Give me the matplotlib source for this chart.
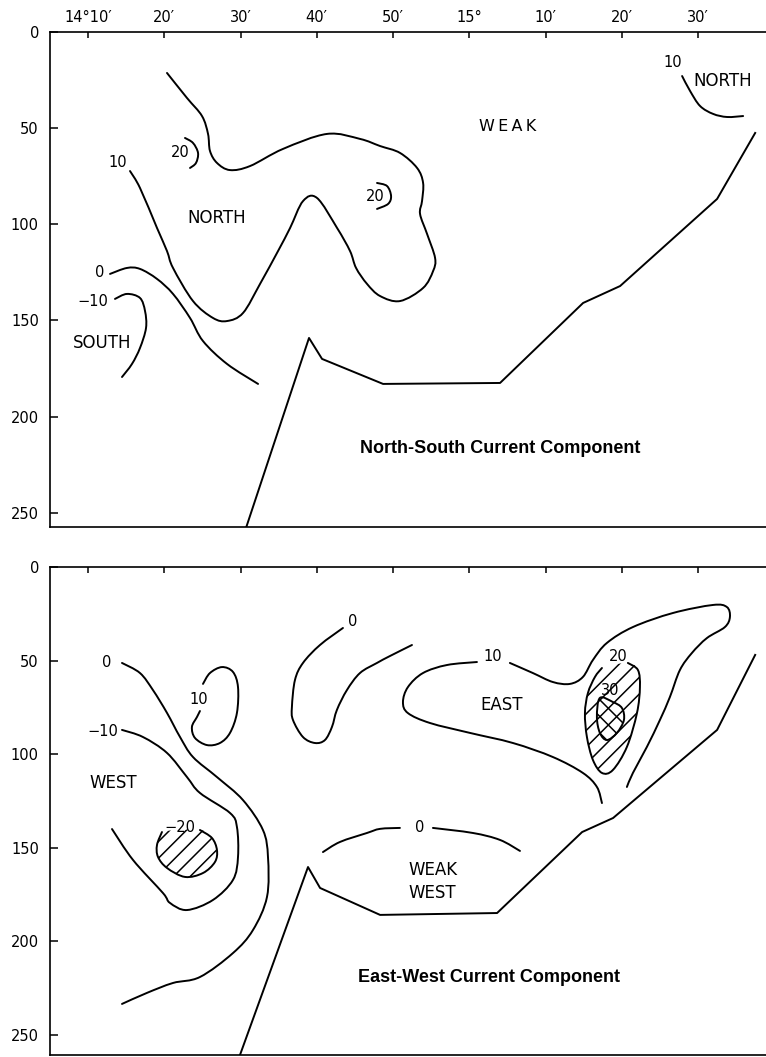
import numpy as np
import matplotlib
matplotlib.use("Agg")
import matplotlib.pyplot as plt
from matplotlib.path import Path
from matplotlib.patches import PathPatch

plt.rcParams["font.family"] = ["DejaVu Sans"]
plt.rcParams["hatch.linewidth"] = 1.1

# Longitude in minutes east of 14°00'E, depth in metres
LON_TICKS = [10, 20, 30, 40, 50, 60, 70, 80, 90]
LON_LABELS = ["14°10′", "20′", "30′", "40′", "50′", "15°", "10′", "20′", "30′"]
DEPTH_TICKS = [0, 50, 100, 150, 200, 250]

NUM_FS = 10.5   # contour values
WORD_FS = 12    # region names

# ---------------- North-South component ----------------
NS_BOTTOM_LON = [30.72, 38.98, 40.69, 48.69, 64.03, 74.92, 79.77, 92.49, 97.48]
NS_BOTTOM_DEP = [257.9, 159.1, 170.0, 183.0, 182.5, 140.9, 132.1, 86.8, 52.5]

NS_P10_LON = [20.36, 22.98, 24.95, 25.74, 26.00, 26.92, 28.62, 31.25, 35.57, 41.34,
              45.67, 48.30, 50.92, 53.15, 53.94, 53.80, 53.54, 54.46, 55.51, 55.25,
              53.94, 50.92, 48.30, 46.59, 45.15, 44.36, 42.66, 40.03, 38.20, 36.50,
              34.92, 32.56, 30.33, 28.23, 26.39, 23.77, 21.15, 20.36, 19.05, 16.82, 15.51]
NS_P10_DEP = [21.3, 34.3, 43.7, 53.0, 61.9, 68.1, 71.8, 69.7, 60.8, 53.0,
              55.6, 59.3, 62.9, 70.7, 78.5, 87.9, 94.6, 105.0, 117.5, 124.3,
              133.1, 139.9, 137.3, 131.0, 122.7, 113.9, 101.9, 86.3, 87.9, 101.9,
              113.9, 131.0, 146.1, 150.3, 148.7, 139.9, 122.7, 113.9, 101.9, 81.1, 72.3]

NS_P20A_LON = [22.72, 23.77, 24.43, 24.16, 23.38]
NS_P20A_DEP = [55.1, 57.7, 62.9, 68.1, 70.7]
NS_P20B_LON = [47.90, 49.21, 49.74, 49.35, 47.90]
NS_P20B_DEP = [78.5, 80.1, 85.3, 89.4, 92.0]

NS_ZERO_LON = [12.89, 15.11, 16.82, 19.05, 21.15, 23.38, 25.08, 28.23, 32.30]
NS_ZERO_DEP = [125.8, 122.7, 123.2, 128.4, 136.2, 148.7, 160.7, 172.6, 183.0]

NS_M10_LON = [13.54, 15.11, 16.82, 17.48, 17.61, 16.82, 15.77, 14.46]
NS_M10_DEP = [138.8, 136.2, 138.3, 145.1, 153.9, 164.3, 172.6, 179.4]

NS_NE10_LON = [87.90, 88.95, 90.26, 91.97, 93.80, 95.90]
NS_NE10_DEP = [22.9, 30.7, 38.5, 42.6, 44.2, 43.7]

# (text, lon, depth, fontsize)
NS_LABELS = [
    ("10", 13.93, 68.1, NUM_FS), ("20", 22.07, 62.9, NUM_FS), ("20", 47.64, 85.3, NUM_FS),
    ("NORTH", 26.92, 96.7, WORD_FS), ("0", 11.57, 125.3, NUM_FS), ("−10", 10.66, 139.9, NUM_FS),
    ("SOUTH", 11.84, 161.7, WORD_FS), ("10", 86.72, 16.1, NUM_FS), ("NORTH", 93.28, 25.5, WORD_FS),
    ("W\u2009E\u2009A\u2009K", 65.08, 48.9, 11.5),
]
NS_TITLE = ("North-South Current Component", 64.03, 216.8)

# ---------------- East-West component ----------------
EW_BOTTOM_LON = [29.93, 38.85, 40.43, 48.30, 63.64, 74.79, 78.85, 92.49, 97.48]
EW_BOTTOM_DEP = [260.9, 160.4, 171.6, 186.0, 185.0, 141.7, 134.2, 87.1, 47.0]

EW_ZERO_W_LON = [14.46, 16.82, 18.52, 20.36, 22.07, 23.77, 26.91, 30.32, 32.94,
                 33.60, 33.47, 31.63, 29.01, 24.68, 21.14, 17.73, 14.46]
EW_ZERO_W_DEP = [51.3, 56.7, 65.8, 78.0, 90.9, 101.6, 112.3, 124.6, 140.6,
                 155.0, 176.4, 194.1, 206.4, 219.2, 222.4, 227.7, 233.6]

EW_M10_LON = [14.46, 17.21, 20.36, 22.98, 24.68, 28.62, 29.53, 29.67, 29.01,
              26.39, 22.98, 20.75, 19.83, 15.90, 13.15]
EW_M10_DEP = [87.1, 90.9, 99.4, 112.3, 120.8, 131.5, 139.0, 155.0, 167.3,
              178.0, 183.4, 179.6, 174.3, 156.6, 140.1]

EW_M20_LON = [19.70, 19.05, 19.18, 20.36, 22.72, 25.08, 26.65, 26.91, 26.26, 24.68]
EW_M20_DEP = [141.7, 148.6, 155.0, 160.9, 165.7, 163.6, 157.7, 151.3, 144.9, 140.6]

EW_P10W_LON = [25.08, 25.99, 27.57, 29.01, 29.67, 29.53, 28.62, 27.30, 25.60,
               24.03, 23.63, 24.29, 24.68]
EW_P10W_DEP = [62.5, 56.7, 53.5, 56.1, 64.2, 78.0, 88.7, 94.1, 95.2,
               91.4, 85.5, 80.2, 77.0]

EW_ZERO_M_LON = [43.43, 40.42, 38.19, 37.14, 36.74, 36.88, 38.19, 39.76, 41.07,
                 41.99, 42.64, 43.95, 45.66, 47.89, 49.59, 52.48]
EW_ZERO_M_DEP = [32.6, 41.7, 51.3, 60.4, 74.8, 81.8, 90.9, 94.1, 92.5,
                 85.5, 76.4, 65.8, 56.7, 51.3, 47.6, 41.7]

EW_P10E_A_LON = [61.00, 57.07, 53.92, 51.95, 51.30, 51.95, 54.84, 60.08, 65.72,
                 70.96, 74.89, 76.73, 77.39]
EW_P10E_A_DEP = [50.8, 52.4, 56.7, 64.2, 72.2, 78.1, 83.4, 88.7, 94.1,
                 101.6, 110.1, 117.6, 126.2]
EW_P10E_B_LON = [65.32, 68.34, 70.96, 73.19, 74.89, 76.21, 78.04, 81.45, 86.69,
                 91.94, 93.77, 94.17, 93.51, 91.15, 89.18, 87.61, 86.30, 84.99,
                 83.28, 81.45, 80.66]
EW_P10E_B_DEP = [51.3, 56.7, 61.5, 62.5, 58.8, 49.7, 40.6, 32.1, 24.6,
                 20.3, 21.4, 26.7, 32.1, 38.0, 46.0, 55.1, 69.5, 81.8,
                 96.2, 110.1, 117.6]

EW_P20_LON = [77.39, 76.47, 75.55, 75.16, 75.42, 76.21, 77.39, 78.83, 80.66,
              81.98, 82.37, 82.11, 80.79]
EW_P20_DEP = [54.0, 58.8, 67.4, 78.1, 90.9, 103.2, 110.1, 108.5, 96.2,
              78.1, 64.2, 55.1, 51.3]

EW_P30_LON = [77.12, 78.83, 80.01, 80.27, 79.35, 78.04, 77.12, 76.73]
EW_P30_DEP = [70.0, 72.2, 75.4, 81.8, 88.7, 92.5, 88.7, 80.2]

EW_ZERO_S_A_LON = [40.81, 43.04, 46.58, 48.30, 50.90]
EW_ZERO_S_A_DEP = [152.4, 147.0, 142.2, 140.0, 139.5]
EW_ZERO_S_B_LON = [55.23, 60.47, 64.01, 66.64]
EW_ZERO_S_B_DEP = [139.5, 142.2, 145.9, 151.8]

EW_LABELS = [
    ("0", 12.49, 51.3, NUM_FS), ("−10", 11.97, 88.2, NUM_FS), ("WEST", 13.28, 115.5, WORD_FS),
    ("10", 24.56, 71.1, NUM_FS), ("0", 44.75, 28.9, NUM_FS), ("−20", 22.07, 139.5, NUM_FS),
    ("10", 63.12, 48.1, NUM_FS), ("20", 79.51, 48.1, NUM_FS), ("30", 78.46, 65.8, NUM_FS),
    ("EAST", 64.30, 73.8, WORD_FS), ("0", 53.54, 139.5, NUM_FS),
    ("WEAK", 55.25, 162.0, WORD_FS), ("WEST", 55.12, 174.3, WORD_FS),
]
EW_TITLE = ("East-West Current Component", 62.59, 219.2)

LW = 1.4


def curve_path(lon, dep, closed=False):
    """Smooth Bezier path passing through every given contour point."""
    pts = np.column_stack([lon, dep]).astype(float)
    n = len(pts)
    verts = [pts[0]]
    codes = [Path.MOVETO]
    segs = n if closed else n - 1
    for i in range(segs):
        if closed:
            p0, p1 = pts[(i - 1) % n], pts[i]
            p2, p3 = pts[(i + 1) % n], pts[(i + 2) % n]
        else:
            p0, p1 = pts[max(i - 1, 0)], pts[i]
            p2, p3 = pts[i + 1], pts[min(i + 2, n - 1)]
        verts += [p1 + (p2 - p0) / 6.0, p2 - (p3 - p1) / 6.0, p2]
        codes += [Path.CURVE4] * 3
    if closed:
        verts.append(pts[0])
        codes.append(Path.CLOSEPOLY)
    return Path(verts, codes)


def draw_contour(ax, lon, dep, closed=False):
    ax.add_patch(PathPatch(curve_path(lon, dep, closed), fill=False,
                           edgecolor="black", lw=LW, capstyle="round"))


def hatch_region(ax, lon, dep, pattern):
    ax.add_patch(PathPatch(curve_path(lon, dep, closed=True), facecolor="none",
                           edgecolor="black", lw=0, hatch=pattern))


def setup_axes(ax, ymax, labels_on_top):
    ax.set_xlim(5.02, 98.9)
    ax.set_ylim(ymax, 0)
    ax.spines["right"].set_visible(False)
    for s in ("top", "left", "bottom"):
        ax.spines[s].set_linewidth(1.2)
    ax.xaxis.tick_top()
    ax.set_xticks(LON_TICKS)
    if labels_on_top:
        ax.set_xticklabels(LON_LABELS, fontsize=10.5)
    else:
        ax.set_xticklabels([])
    ax.tick_params(axis="x", direction="in", length=4, width=1.1, pad=5)
    ax.set_yticks(DEPTH_TICKS)
    ax.set_yticklabels([str(v) for v in DEPTH_TICKS], fontsize=10.5)
    ax.tick_params(axis="y", direction="in", length=6, width=1.1, pad=8)


def put_labels(ax, labels, title):
    for text, x, y, fs in labels:
        ax.text(x, y, text, ha="center", va="center", fontsize=fs)
    ax.text(title[1], title[2], title[0], ha="center", va="center",
            fontsize=13, fontweight="bold", family="Liberation Sans")


fig = plt.figure(figsize=(7.66, 10.57), dpi=100)
ax1 = fig.add_axes([50 / 766, 1 - 527 / 1057, 716 / 766, 495 / 1057])
ax2 = fig.add_axes([50 / 766, 1 - 1055 / 1057, 716 / 766, 488 / 1057])

# North-South panel
setup_axes(ax1, 257.4, True)
ax1.plot(NS_BOTTOM_LON, NS_BOTTOM_DEP, color="black", lw=LW)
draw_contour(ax1, NS_P10_LON, NS_P10_DEP)
draw_contour(ax1, NS_P20A_LON, NS_P20A_DEP)
draw_contour(ax1, NS_P20B_LON, NS_P20B_DEP)
draw_contour(ax1, NS_ZERO_LON, NS_ZERO_DEP)
draw_contour(ax1, NS_M10_LON, NS_M10_DEP)
draw_contour(ax1, NS_NE10_LON, NS_NE10_DEP)
put_labels(ax1, NS_LABELS, NS_TITLE)

# East-West panel
setup_axes(ax2, 260.9, False)
ax2.plot(EW_BOTTOM_LON, EW_BOTTOM_DEP, color="black", lw=LW)
draw_contour(ax2, EW_ZERO_W_LON, EW_ZERO_W_DEP)
draw_contour(ax2, EW_M10_LON, EW_M10_DEP)
hatch_region(ax2, EW_M20_LON, EW_M20_DEP, "//")
draw_contour(ax2, EW_M20_LON, EW_M20_DEP)
draw_contour(ax2, EW_P10W_LON, EW_P10W_DEP)
draw_contour(ax2, EW_ZERO_M_LON, EW_ZERO_M_DEP)
draw_contour(ax2, EW_P10E_A_LON, EW_P10E_A_DEP)
draw_contour(ax2, EW_P10E_B_LON, EW_P10E_B_DEP)
hatch_region(ax2, EW_P20_LON, EW_P20_DEP, "//")
draw_contour(ax2, EW_P20_LON, EW_P20_DEP)
hatch_region(ax2, EW_P30_LON, EW_P30_DEP, "\\\\")
draw_contour(ax2, EW_P30_LON, EW_P30_DEP, closed=True)
draw_contour(ax2, EW_ZERO_S_A_LON, EW_ZERO_S_A_DEP)
draw_contour(ax2, EW_ZERO_S_B_LON, EW_ZERO_S_B_DEP)
put_labels(ax2, EW_LABELS, EW_TITLE)

fig.savefig("out.png", dpi=100)
